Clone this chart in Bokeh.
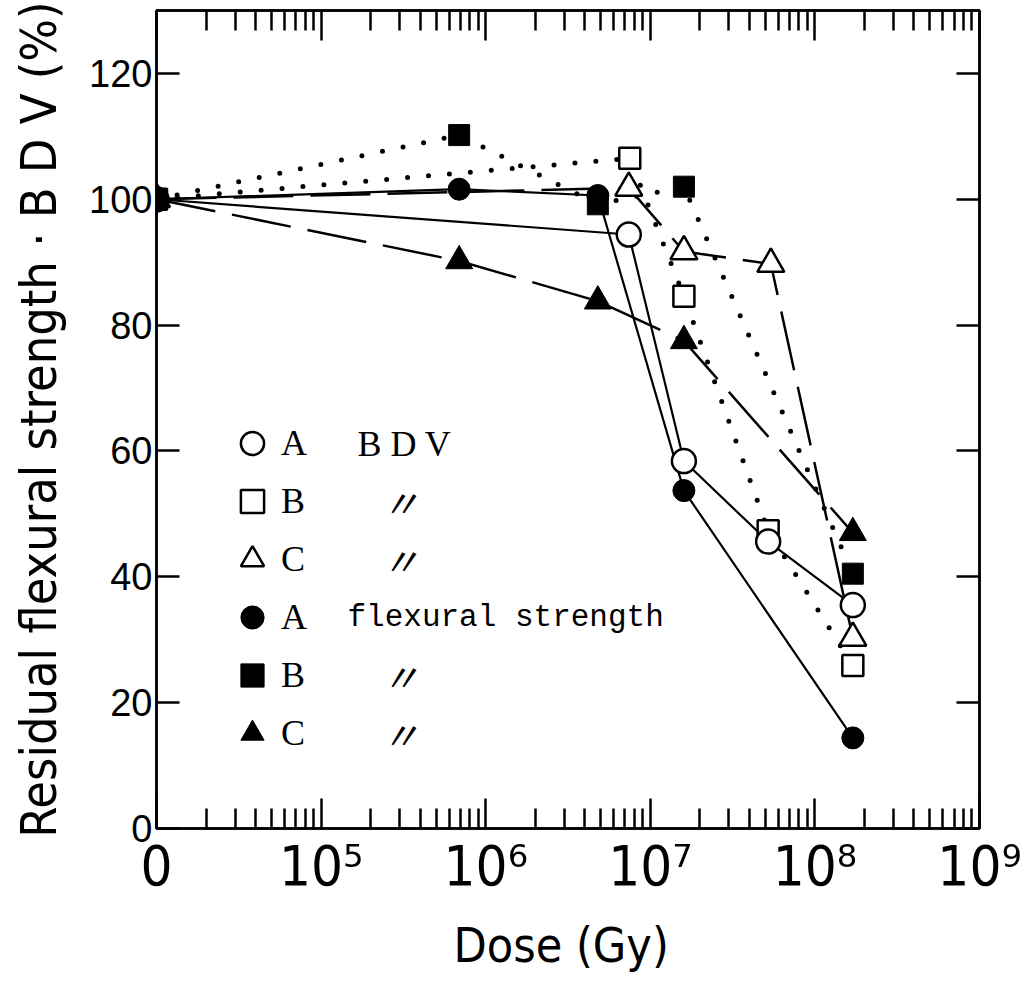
from bokeh.plotting import figure
from bokeh.models import (LogAxis, LinearAxis, FixedTicker, Range1d, Legend,
                          LegendItem, Label)
from bokeh.embed import file_html
from bokeh.resources import INLINE

# ---------------- data ----------------
X_ZERO = 1e4  # the axis position labelled "0"

dose_A_bdv = [0, 7.4e6, 1.6e7, 5.2e7, 1.7e8]
A_bdv = [100, 94.4, 58.4, 45.6, 35.5]
dose_B_bdv = [0, 7.5e6, 1.6e7, 5.2e7, 1.7e8]
B_bdv = [100, 106.5, 84.6, 47.3, 25.9]
dose_C_bdv = [0, 7.4e6, 1.6e7, 5.4e7, 1.7e8]
C_bdv = [100, 101.8, 91.7, 89.7, 30.3]
dose_A_flex = [0, 6.9e5, 4.8e6, 1.6e7, 1.7e8]
A_flex = [100, 101.6, 100.6, 53.7, 14.4]
dose_B_flex = [0, 6.9e5, 4.8e6, 1.6e7, 1.7e8]
B_flex = [100, 110.2, 99.2, 102.0, 40.5]
dose_C_flex = [0, 6.9e5, 4.8e6, 1.6e7, 1.7e8]
C_flex = [100, 90.2, 83.8, 77.5, 47.0]

x_tick_values = [1e4, 1e5, 1e6, 1e7, 1e8, 1e9]
x_tick_labels = ["0", "10\u2075", "10\u2076", "10\u2077", "10\u2078", "10\u2079"]
y_tick_values = [0, 20, 40, 60, 80, 100, 120]

legend_letters = ["A", "B", "C", "A", "B", "C"]
legend_desc = ["B D V", "\u3003", "\u3003", "flexural strength", "\u3003", "\u3003"]


def xpos(d):
    return [v if v > 0 else X_ZERO for v in d]


NARROW = "DejaVu Sans Condensed, Liberation Sans Narrow, Roboto"

p = figure(width=1029, height=987, x_axis_type="log",
           x_range=Range1d(1e4, 1e9), y_range=Range1d(0, 130),
           output_backend="svg", toolbar_location=None,
           min_border_left=156, min_border_right=50,
           min_border_top=10, min_border_bottom=159)
p.grid.visible = False
p.outline_line_color = "black"
p.outline_line_width = 2.5
p.background_fill_color = "white"
p.border_fill_color = "white"

minor = [k * 10 ** e for e in range(4, 9) for k in range(2, 10)]

xa = p.xaxis[0]
xa.ticker = FixedTicker(ticks=x_tick_values, minor_ticks=minor)
xa.major_label_overrides = {float(v): t for v, t in zip(x_tick_values, x_tick_labels)}
xa.major_tick_in = 30
xa.major_tick_out = 0
xa.minor_tick_in = 20
xa.minor_tick_out = 0
xa.axis_line_width = 2.5
xa.major_tick_line_width = 2.5
xa.minor_tick_line_width = 2.5
xa.major_label_text_font = NARROW
xa.major_label_text_font_size = "56px"
xa.major_label_text_color = "black"
xa.major_label_standoff = 4
xa.axis_label = "Dose  (Gy)"
xa.axis_label_text_font = NARROW
xa.axis_label_text_font_size = "48px"
xa.axis_label_text_font_style = "normal"
xa.axis_label_text_color = "black"
xa.axis_label_standoff = 16

ya = p.yaxis[0]
ya.ticker = FixedTicker(ticks=y_tick_values, minor_ticks=[])
ya.major_tick_in = 23
ya.major_tick_out = 0
ya.minor_tick_in = 0
ya.minor_tick_out = 0
ya.axis_line_width = 2.5
ya.major_tick_line_width = 2.5
ya.major_label_text_font = "Liberation Sans"
ya.major_label_text_font_size = "38px"
ya.major_label_text_color = "black"
ya.major_label_standoff = 4
ya.axis_label = "Residual flexural strength \u00b7 B D V (%)"
ya.axis_label_text_font = NARROW
ya.axis_label_text_font_size = "50px"
ya.axis_label_text_font_style = "normal"
ya.axis_label_text_color = "black"
ya.axis_label_standoff = 18

top = LogAxis(ticker=FixedTicker(ticks=x_tick_values, minor_ticks=minor),
              major_tick_in=30, major_tick_out=0, minor_tick_in=20, minor_tick_out=0,
              axis_line_width=2.5, major_tick_line_width=2.5, minor_tick_line_width=2.5,
              major_label_overrides={float(v): "" for v in x_tick_values},
              major_label_standoff=0)
p.add_layout(top, "above")
right = LinearAxis(ticker=FixedTicker(ticks=y_tick_values, minor_ticks=[]),
                   major_tick_in=23, major_tick_out=0, minor_tick_in=0, minor_tick_out=0,
                   axis_line_width=2.5, major_tick_line_width=2.5,
                   major_label_overrides={v: "" for v in y_tick_values},
                   major_label_standoff=0)
p.add_layout(right, "right")

DOT = dict(line_dash="0 21", line_cap="round", line_width=5)
DASH = dict(line_dash="60 17", line_width=2.5)
SOLID = dict(line_width=2.2)

# lines
p.line(xpos(dose_C_flex), C_flex, color="black", **DASH)
p.line(xpos(dose_C_bdv), C_bdv, color="black", **DASH)
p.line(xpos(dose_B_flex), B_flex, color="black", **DOT)
p.line(xpos(dose_B_bdv), B_bdv, color="black", **DOT)
p.line(xpos(dose_A_bdv), A_bdv, color="black", **SOLID)
p.line(xpos(dose_A_flex), A_flex, color="black", **SOLID)

# markers
r_c_bdv = p.scatter(xpos(dose_C_bdv), C_bdv, marker="triangle", size=27,
                    fill_color="white", line_color="black", line_width=2.5)
r_b_bdv = p.scatter(xpos(dose_B_bdv), B_bdv, marker="square", size=21,
                    fill_color="white", line_color="black", line_width=2.5)
r_a_bdv = p.scatter(xpos(dose_A_bdv), A_bdv, marker="circle", size=24,
                    fill_color="white", line_color="black", line_width=2.5)
r_c_fl = p.scatter(xpos(dose_C_flex), C_flex, marker="triangle", size=27,
                   fill_color="black", line_color="black")
r_b_fl = p.scatter(xpos(dose_B_flex), B_flex, marker="square", size=21,
                   fill_color="black", line_color="black")
r_a_fl = p.scatter(xpos(dose_A_flex), A_flex, marker="circle", size=22,
                   fill_color="black", line_color="black")

renderers = [r_a_bdv, r_b_bdv, r_c_bdv, r_a_fl, r_b_fl, r_c_fl]
items = [LegendItem(label=l, renderers=[r]) for l, r in zip(legend_letters, renderers)]
legend = Legend(items=items, location=(67, 66), glyph_width=58, glyph_height=58,
                label_height=58, spacing=0, padding=0, margin=0, label_standoff=0,
                border_line_color=None, background_fill_alpha=0,
                label_text_font="Liberation Serif", label_text_font_size="36px",
                label_text_color="black")
p.add_layout(legend)

ROW0 = 385
ROWH = 58
for i, txt in enumerate(legend_desc):
    if txt == "\u3003":
        lab = Label(x=244, y=ROW0 - ROWH * i, x_units="screen", y_units="screen",
                    text=txt, text_font="Noto Sans CJK JP", text_font_size="38px",
                    text_font_style="italic",
                    text_align="center", text_baseline="middle", text_color="black")
    elif i == 0:
        lab = Label(x=201, y=ROW0 - ROWH * i, x_units="screen", y_units="screen",
                    text=txt, text_font="Liberation Serif", text_font_size="36px",
                    text_align="left", text_baseline="middle", text_color="black")
    else:
        lab = Label(x=191, y=ROW0 - ROWH * i, x_units="screen", y_units="screen",
                    text=txt, text_font="Liberation Mono", text_font_size="31px",
                    text_align="left", text_baseline="middle", text_color="black")
    p.add_layout(lab)

open("out.html", "w").write(file_html(p, INLINE))
